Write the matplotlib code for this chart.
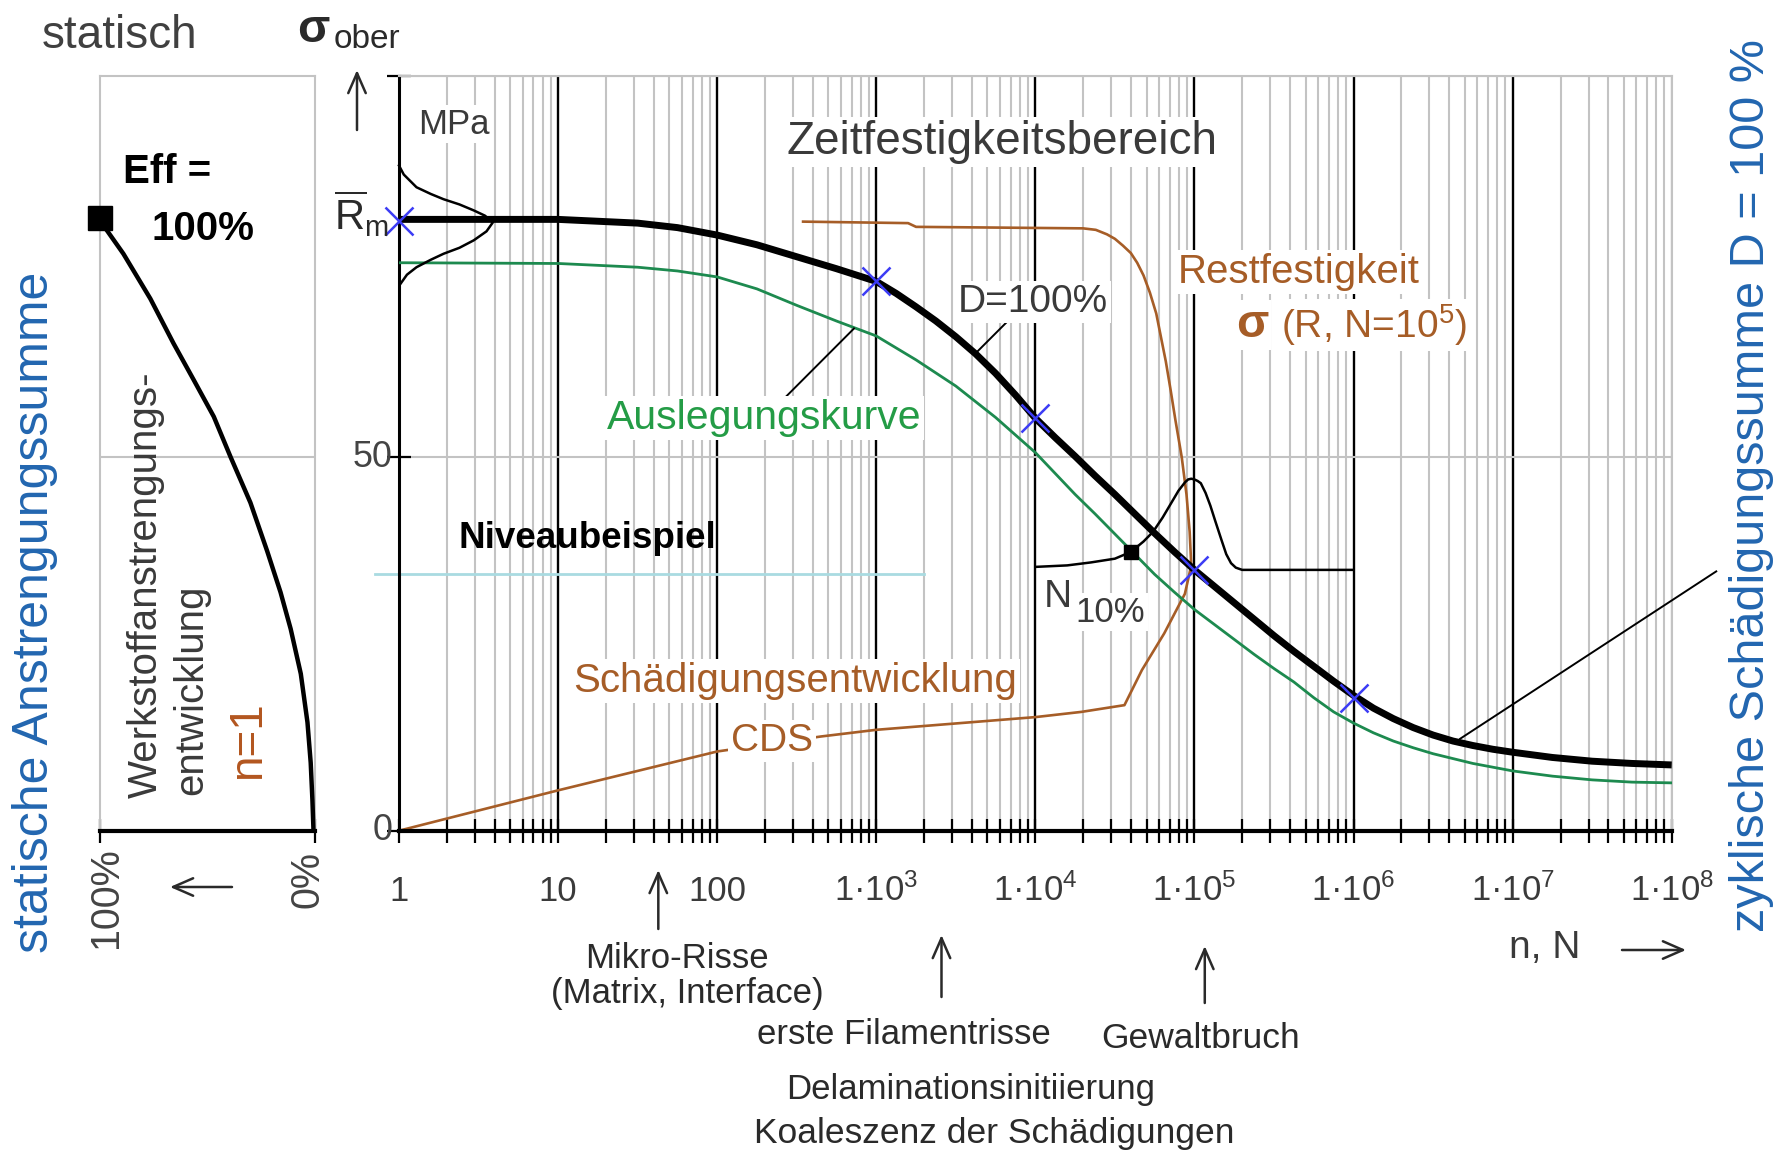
import numpy as np
import matplotlib
matplotlib.use("Agg")
import matplotlib.pyplot as plt
from matplotlib import font_manager
from matplotlib.transforms import blended_transform_factory as blend
from matplotlib.ticker import LogLocator, NullFormatter

W, H = 1777, 1153

# ---------------- data (cycle counts given as log10 N, stresses in MPa) ----------------
# S-N curve D = 100 %
sn_logN = [0, 1.0, 1.5, 1.75, 2.0, 2.25, 2.5, 2.75, 3.0, 3.125, 3.25, 3.375, 3.5, 3.625,
           3.75, 3.875, 4.0, 4.125, 4.25, 4.375, 4.5, 4.625, 4.75, 4.875, 5.0, 5.125,
           5.25, 5.375, 5.5, 5.625, 5.75, 5.875, 6.0, 6.125, 6.25, 6.375, 6.5, 6.625,
           6.75, 6.875, 7.0, 7.25, 7.5, 7.75, 8.0]
sn_sigma = [81.8, 81.8, 81.3, 80.7, 79.7, 78.4, 76.8, 75.2, 73.5, 71.9, 70.1, 68.2, 66.1,
            63.8, 61.2, 58.3, 55.2, 52.6, 50.1, 47.5, 45.0, 42.4, 39.8, 37.3, 34.9, 32.7,
            30.5, 28.3, 26.1, 24.0, 22.0, 20.0, 18.1, 16.4, 15.0, 13.8, 12.8, 12.0, 11.4,
            10.9, 10.5, 9.8, 9.3, 9.0, 8.8]

# design curve (Auslegungskurve)
aus_logN = [0, 1.0, 1.5, 1.75, 2.0, 2.25, 2.5, 2.75, 3.0, 3.25, 3.5, 3.75, 4.0, 4.125,
            4.25, 4.375, 4.5, 4.625, 4.75, 4.875, 5.0, 5.125, 5.25, 5.375, 5.5, 5.625,
            5.75, 5.875, 6.0, 6.125, 6.25, 6.375, 6.5, 6.75, 7.0, 7.25, 7.5, 7.75, 8.0]
aus_sigma = [76.0, 75.9, 75.4, 74.9, 74.1, 72.5, 70.3, 68.2, 66.2, 63.0, 59.5, 55.3, 50.6,
             47.8, 45.0, 42.4, 39.7, 37.0, 34.3, 31.9, 29.6, 27.6, 25.6, 23.6, 21.7,
             19.9, 17.8, 15.9, 14.4, 13.1, 12.0, 11.1, 10.3, 9.0, 8.0, 7.3, 6.8, 6.5, 6.4]

# residual strength (Restfestigkeit)
rest_logN = [2.54, 3.2, 3.25, 4.3, 4.38, 4.45, 4.5, 4.55, 4.6, 4.64, 4.68, 4.72, 4.76,
             4.79, 4.82, 4.85, 4.88, 4.9, 4.92, 4.95, 4.97, 4.98]
rest_sigma = [81.5, 81.3, 80.8, 80.6, 80.4, 79.8, 79.2, 78.3, 77.3, 76.0, 74.3, 72.0, 69.2,
              66.0, 62.8, 59.0, 55.0, 52.5, 50.0, 45.0, 40.0, 35.5]

# damage development (CDS)
cds_logN = [0, 1.0, 2.0, 2.65, 3.0, 4.0, 4.29, 4.56, 4.67, 4.81, 4.94, 4.98]
cds_sigma = [0.0, 5.4, 10.6, 12.6, 13.5, 15.2, 15.9, 16.8, 21.5, 26.4, 31.7, 35.5]

# static strength distribution at N = 1
bell_logN = [0.0, 0.03, 0.11, 0.2, 0.28, 0.38, 0.47, 0.54, 0.59, 0.55, 0.47, 0.38, 0.28,
             0.2, 0.11, 0.05, 0.01]
bell_sigma = [89.0, 87.8, 86.1, 85.2, 84.5, 83.8, 83.0, 82.3, 81.4, 80.2, 79.0, 78.0,
              77.2, 76.4, 75.4, 74.4, 73.2]

# fatigue life distribution at the example level
dist_logN = [4.0, 4.2, 4.35, 4.5, 4.6, 4.68, 4.74, 4.8, 4.85, 4.9, 4.94, 4.96, 4.98, 5.0,
             5.02, 5.04, 5.07, 5.1, 5.13, 5.17, 5.2, 5.23, 5.26, 5.3, 6.0]
dist_sigma = [35.3, 35.5, 35.9, 36.4, 37.3, 38.7, 40.0, 41.9, 43.7, 45.5, 46.6, 47.0, 47.1,
              47.0, 46.8, 46.5, 45.2, 43.5, 41.5, 38.9, 37.0, 35.8, 35.2, 34.9, 34.9]
n10_logN, n10_sigma = 4.6, 37.3

# blue crosses on the S-N curve
cross_logN = [0, 3, 4, 5, 6]
cross_sigma = [81.6, 73.5, 55.2, 34.9, 17.8]

# leader lines
leadD_logN, leadD_s = [3.86, 3.63], [68.9, 64.0]
leadA_logN, leadA_s = [2.41, 2.86], [57.6, 67.2]
leadZ_logN, leadZ_s = [6.67, 8.28], [12.3, 34.7]

# load level example
niveau_logN = [-0.15, 3.3]
niveau_sigma = 34.4

# events below the axis (log N, arrow tail y px, arrow head y px)
event_logN = [1.63, 3.41, 5.065]
event_y0 = [929, 997, 1003]
event_y1 = [870, 935, 946]

# static panel: material effort (%) vs stress
eff = [100, 98.3, 89.0, 76.5, 65.7, 56.3, 47.0, 39.2, 30.0, 22.2, 16.0, 11.3, 6.6, 3.5,
       2.0, 1.2, 0.7]
eff_sigma = [82.0, 81.0, 77.2, 71.2, 65.2, 60.3, 55.4, 50.0, 43.9, 37.4, 31.9, 27.0, 21.0,
             14.5, 9.1, 4.1, 0.0]

dec_logN = [0, 1, 2, 3, 4, 5, 6, 7, 8]
dec_labels = ["1", "10", "100", r"1·10$^{\mathrm{3}}$", r"1·10$^{\mathrm{4}}$",
              r"1·10$^{\mathrm{5}}$", r"1·10$^{\mathrm{6}}$", r"1·10$^{\mathrm{7}}$",
              r"1·10$^{\mathrm{8}}$"]
y_ticks = [0, 50]
y_labels = ["0", "50"]


def N(v):
    return np.power(10.0, np.asarray(v, dtype=float))


# ---------------- style ----------------
names = {f.name for f in font_manager.fontManager.ttflist}
SANS = "Liberation Sans" if "Liberation Sans" in names else "DejaVu Sans"
if "Liberation Sans Narrow" in names:
    NARROW, NS = "Liberation Sans Narrow", 1.0
else:
    NARROW, NS = SANS, 0.89
plt.rcParams["font.family"] = [SANS, "DejaVu Sans"]
plt.rcParams["mathtext.fontset"] = "custom"
plt.rcParams["mathtext.rm"] = SANS
plt.rcParams["mathtext.it"] = SANS + ":italic"
plt.rcParams["mathtext.bf"] = SANS + ":bold"

BROWN = "#a65d27"
GREEN_LINE = "#1d8a4f"
GREEN_TEXT = "#249c46"
BLUE_X = "#3c3cf5"
LBLUE = "#2266b0"
DARK = "#2a2a2a"
GRAYTXT = "#3a3a3a"
GRID = "#c3c3c3"
WHITEBOX = dict(facecolor="white", edgecolor="none", pad=2)


def fx(px):
    return px / W


def fy(py):
    return 1 - py / H


fig = plt.figure(figsize=(W / 100, H / 100), dpi=100)
fig.patch.set_facecolor("white")

# ---------------- main axes ----------------
ax = fig.add_axes([fx(399), fy(830.7), (1671.7 - 399) / W, (830.7 - 75.9) / H])
ax.set_xscale("log")
ax.set_xlim(1, 1e8)
ax.set_ylim(0, 101)
ax.set_xticks(N(dec_logN))
ax.xaxis.set_minor_locator(LogLocator(base=10, subs=np.arange(2, 10), numticks=30))
ax.xaxis.set_major_formatter(NullFormatter())
ax.xaxis.set_minor_formatter(NullFormatter())
ax.tick_params(axis="x", which="both", direction="inout", length=17, width=1.6,
               color="k", labelbottom=False)
ax.set_yticks(y_ticks + [101])
ax.set_yticklabels([])
ax.tick_params(axis="y", which="major", direction="inout", length=17, width=1.6, color="k")
ax.grid(which="minor", axis="x", color=GRID, lw=1.5)
ax.grid(which="major", axis="x", color="k", lw=1.7)
ax.xaxis.get_gridlines()[-1].set_color(GRID)
ax.grid(which="major", axis="y", color=GRID, lw=1.5)
ax.spines["left"].set(lw=2.2, color="k")
ax.spines["bottom"].set(lw=3.0, color="k")
ax.spines["top"].set(lw=1.5, color=GRID)
ax.spines["right"].set(lw=1.5, color=GRID)

ax.plot(N(rest_logN), rest_sigma, color=BROWN, lw=1.9, zorder=2)
ax.plot(N(cds_logN), cds_sigma, color=BROWN, lw=1.9, zorder=2, clip_on=False)
ax.plot(N(aus_logN), aus_sigma, color=GREEN_LINE, lw=2.0, zorder=3)
ax.plot(N(bell_logN), bell_sigma, color="k", lw=1.8, zorder=3, clip_on=False)
ax.plot(N(dist_logN), dist_sigma, color="k", lw=1.8, zorder=3)
ax.plot(N([n10_logN]), [n10_sigma], "s", color="k", ms=10, zorder=5)
ax.plot(N(sn_logN), sn_sigma, color="k", lw=5.0, zorder=4, solid_capstyle="butt",
        solid_joinstyle="round")
ax.plot(N(leadD_logN), leadD_s, color="k", lw=1.4, zorder=3)
ax.plot(N(leadA_logN), leadA_s, color="k", lw=1.4, zorder=3)
ax.plot(N(leadZ_logN), leadZ_s, color="k", lw=1.4, zorder=3, clip_on=False)
ax.plot(N(niveau_logN), [niveau_sigma, niveau_sigma], color="#a9dbe1", lw=2.0, zorder=2,
        clip_on=False)
ax.plot(N(cross_logN), cross_sigma, "x", color=BLUE_X, ms=20, mew=1.8, zorder=6,
        clip_on=False)

# x tick labels
tx = blend(ax.transData, fig.transFigure)
for n, lab in zip(N(dec_logN), dec_labels):
    ax.text(n, fy(901), lab, transform=tx, ha="center", va="baseline",
            fontfamily=[NARROW, SANS], fontsize=28 * NS, color=GRAYTXT)
ty = blend(fig.transFigure, ax.transData)
for v, lab in zip(y_ticks, y_labels):
    ax.text(fx(392), v, lab, transform=ty, ha="right", va="center",
            fontfamily=[NARROW, SANS], fontsize=29 * NS, color="#444444")

# event arrows
arrow_kw = dict(arrowstyle="->,head_length=0.8,head_width=0.35", lw=1.8, color=DARK,
                shrinkA=0, shrinkB=0, mutation_scale=18)
for n, y0, y1 in zip(N(event_logN), event_y0, event_y1):
    ax.annotate("", xy=(n, fy(y1)), xytext=(n, fy(y0)), xycoords=tx, textcoords=tx,
                arrowprops=arrow_kw, annotation_clip=False)

# ---------------- static panel ----------------
axL = fig.add_axes([fx(99.7), fy(830.7), (315 - 99.7) / W, (830.7 - 75.9) / H])
axL.set_xlim(100, 0)
axL.set_ylim(0, 101)
axL.set_xticks([100, 0])
axL.set_xticklabels([])
axL.tick_params(axis="x", direction="inout", length=17, width=1.6, color="k")
axL.set_yticks([50])
axL.set_yticklabels([])
axL.tick_params(axis="y", length=0)
axL.grid(axis="y", color=GRID, lw=1.5)
for s in ["left", "top", "right"]:
    axL.spines[s].set(lw=1.5, color=GRID)
axL.spines["bottom"].set(lw=3.0, color="k")
axL.plot(eff, eff_sigma, color="k", lw=3.2, zorder=3, solid_joinstyle="round",
         clip_on=False)
axL.plot([eff[0]], [eff_sigma[0]], "s", color="k", ms=17, zorder=4, clip_on=False)


# ---------------- texts ----------------
def ftext(x, y, s, size, color=DARK, ha="center", va="center", **kw):
    return fig.text(fx(x), fy(y), s, fontsize=size, color=color, ha=ha, va=va, **kw)


ftext(120, 36, "statisch", 33, color="#404040")
ftext(313, 30, "σ", 34, color=DARK, fontweight="bold")
ftext(367, 40, "ober", 24, color=DARK)
ftext(454, 124, "MPa", 25, color=GRAYTXT, bbox=WHITEBOX)
ftext(389, 214, r"$\overline{\mathrm{R}}_{\mathrm{m}}$", 30, color=DARK, ha="right")
ftext(167, 172, "Eff =", 29, color="k", fontweight="bold")
ftext(203, 229, "100%", 29, color="k", fontweight="bold")
ftext(1002, 142, "Zeitfestigkeitsbereich", 33, color=GRAYTXT, bbox=WHITEBOX)
ftext(1299, 272, "Restfestigkeit", 29, color=BROWN, bbox=WHITEBOX)
ftext(1252, 325, "σ", 34, color=BROWN, fontweight="bold", bbox=WHITEBOX)
ftext(1281, 325, r"(R, N=10$^{\mathrm{5}}$)", 28, color=BROWN, ha="left", bbox=WHITEBOX)
ftext(1033, 302, "D=100%", 28, color=GRAYTXT, bbox=WHITEBOX)
ftext(764, 418, "Auslegungskurve", 29.5, color=GREEN_TEXT, bbox=WHITEBOX)
ftext(587, 538, "Niveaubeispiel", 26.5, color="k", fontweight="bold")
ftext(1058, 597, "N", 28, color=GRAYTXT, bbox=WHITEBOX)
ftext(1110, 612, "10%", 25, color=GRAYTXT, bbox=WHITEBOX)
ftext(795, 681, "Schädigungsentwicklung", 29, color=BROWN, bbox=WHITEBOX)
ftext(772, 741, "CDS", 28, color=BROWN, bbox=WHITEBOX)

ftext(35, 612, "statische Anstrengungssumme", 36, color=LBLUE, rotation=90)
ftext(1751, 485, "zyklische Schädigungssumme D = 100 %", 35, color=LBLUE, rotation=90)
ftext(146, 798, "Werkstoffanstrengungs-", 29, color=GRAYTXT, rotation=90,
      rotation_mode="anchor", ha="left", va="center")
ftext(191, 795, "entwicklung", 29, color=GRAYTXT, rotation=90,
      rotation_mode="anchor", ha="left", va="center")
ftext(248, 740, "n=1", 33, color="#b3561f", rotation=90)
ftext(106, 898, "100%", 32 * NS, color="#444444", rotation=90, fontfamily=[NARROW, SANS])
ftext(308, 880, "0%", 32 * NS, color="#444444", rotation=90, fontfamily=[NARROW, SANS])

ftext(1545, 948, "n, N", 28, color=GRAYTXT)
ftext(677, 958, "Mikro-Risse", 25)
ftext(687, 994, "(Matrix, Interface)", 25)
ftext(904, 1035, "erste Filamentrisse", 25)
ftext(1201, 1039, "Gewaltbruch", 25.5)
ftext(971, 1090, "Delaminationsinitiierung", 25)
ftext(994, 1133, "Koaleszenz der Schädigungen", 25.5)

# free arrows in figure pixels
for (x0, y0, x1, y1) in [(357, 130, 357, 70), (232, 887, 170, 887), (1622, 950, 1686, 950)]:
    ax.annotate("", xy=(fx(x1), fy(y1)), xytext=(fx(x0), fy(y0)),
                xycoords="figure fraction", textcoords="figure fraction",
                arrowprops=arrow_kw, annotation_clip=False)

fig.savefig("out.png", dpi=100, facecolor="white")
